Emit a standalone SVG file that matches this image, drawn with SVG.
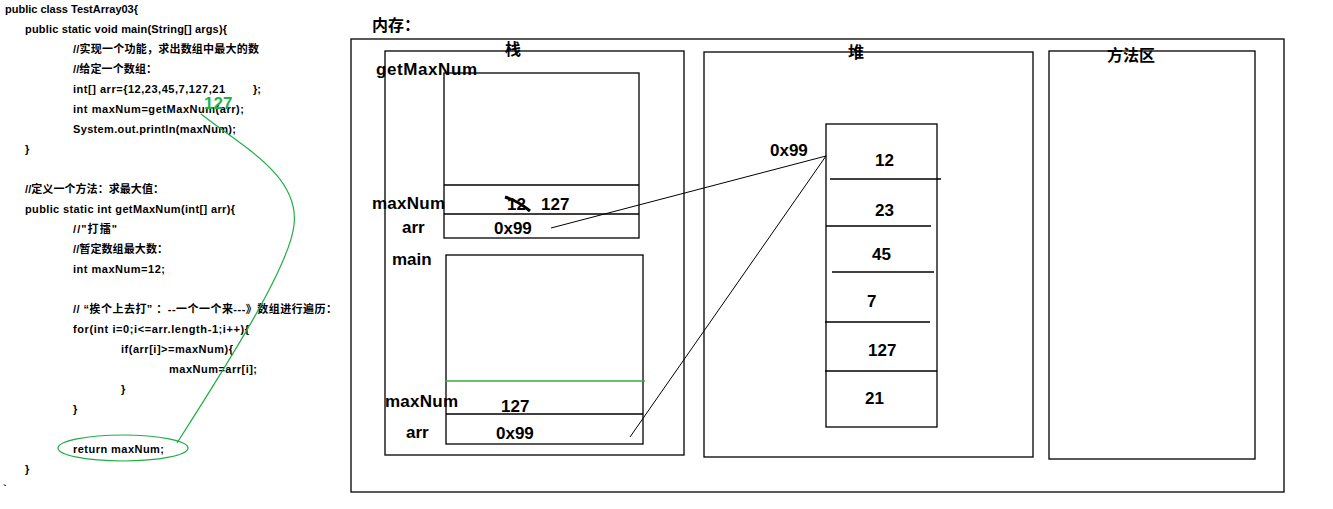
<svg xmlns="http://www.w3.org/2000/svg" width="1333" height="509" viewBox="0 0 1333 509">
<style>
.code{font-family:"Liberation Sans","Noto Sans CJK SC",sans-serif;font-size:11px;font-weight:bold;fill:#000}
.lbl{font-family:"Liberation Sans","Noto Sans CJK SC",sans-serif;font-size:17px;font-weight:bold;fill:#000}
.ttl{font-family:"Noto Sans CJK SC","Liberation Sans",sans-serif;font-size:16px;font-weight:bold;fill:#000}
.box{fill:none;stroke:#000;stroke-width:1.3}
.ln{stroke:#000;stroke-width:1.3;fill:none}
.ptr{stroke:#000;stroke-width:1;fill:none}
.grn{stroke:#1fae45;stroke-width:1.2;fill:none}
</style>
<rect width="1333" height="509" fill="#fff"/>
<g id="code">
<text class="code" x="5" y="13" textLength="133">public class TestArray03{</text>
<text class="code" x="25" y="33" textLength="202">public static void main(String[] args){</text>
<text class="code" x="73" y="53" textLength="186">//实现一个功能，求出数组中最大的数</text>
<text class="code" x="73" y="73" textLength="84">//给定一个数组：</text>
<text class="code" x="73" y="93" textLength="152">int[] arr={12,23,45,7,127,21</text>
<text class="code" x="253" y="93">};</text>
<text class="code" x="73" y="113" textLength="171">int maxNum=getMaxNum(arr);</text>
<text class="code" x="73" y="133" textLength="163">System.out.println(maxNum);</text>
<text class="code" x="25" y="153">}</text>
<text class="code" x="25" y="193" textLength="139">//定义一个方法：求最大值：</text>
<text class="code" x="25" y="213" textLength="210">public static int getMaxNum(int[] arr){</text>
<text class="code" x="73" y="233" textLength="44">//"打擂"</text>
<text class="code" x="73" y="253" textLength="95">//暂定数组最大数：</text>
<text class="code" x="73" y="273" textLength="92">int maxNum=12;</text>
<text class="code" x="73" y="313" textLength="264">// “挨个上去打” ：--一个一个来---》数组进行遍历：</text>
<text class="code" x="73" y="333" textLength="176">for(int i=0;i&lt;=arr.length-1;i++){</text>
<text class="code" x="121" y="353" textLength="112">if(arr[i]&gt;=maxNum){</text>
<text class="code" x="169" y="373" textLength="88">maxNum=arr[i];</text>
<text class="code" x="121" y="393">}</text>
<text class="code" x="73" y="413">}</text>
<text class="code" x="73" y="453" textLength="91">return maxNum;</text>
<text class="code" x="25" y="473">}</text>
<text class="code" x="3" y="492">`</text>
</g>
<g id="memory">
<rect class="box" x="351" y="39" width="933" height="453"/>
<text class="ttl" x="372" y="31">内存：</text>
</g>
<g id="stack">
<rect class="box" x="385" y="51" width="299" height="404"/>
<text class="ttl" x="513" y="55" text-anchor="middle">栈</text>
</g>
<g id="frame-getMaxNum">
<rect class="box" x="444" y="73" width="195" height="165"/>
<line class="ln" x1="444" y1="185" x2="639" y2="185"/>
<line class="ln" x1="444" y1="214" x2="639" y2="214"/>
<text class="lbl" x="376" y="75" textLength="101">getMaxNum</text>
<text class="lbl" x="372" y="209" textLength="73">maxNum</text>
<text class="lbl" x="402" y="233">arr</text>
<text class="lbl" x="507" y="210">12</text>
<path d="M505,197 Q518,201 530,211" stroke="#000" stroke-width="3" fill="none"/>
<text class="lbl" x="541" y="210">127</text>
<text class="lbl" x="494" y="234">0x99</text>
</g>
<g id="frame-main">
<rect class="box" x="446" y="255" width="197" height="189"/>
<line x1="445" y1="381" x2="645" y2="381" stroke="#3aa845" stroke-width="1.3"/>
<line class="ln" x1="446" y1="414" x2="643" y2="414"/>
<text class="lbl" x="392" y="265">main</text>
<text class="lbl" x="385" y="407" textLength="73">maxNum</text>
<text class="lbl" x="501" y="412">127</text>
<text class="lbl" x="406" y="438">arr</text>
<text class="lbl" x="496" y="439">0x99</text>
</g>
<g id="heap">
<rect class="box" x="704" y="52" width="329" height="405"/>
<text class="ttl" x="856" y="58" text-anchor="middle">堆</text>
</g>
<g id="array">
<rect class="box" x="826" y="124" width="111" height="303"/>
<line class="ln" x1="830" y1="179" x2="941" y2="179"/>
<line class="ln" x1="826" y1="226" x2="931" y2="226"/>
<line class="ln" x1="832" y1="272" x2="934" y2="272"/>
<line class="ln" x1="825" y1="322" x2="930" y2="322"/>
<line class="ln" x1="825" y1="371" x2="937" y2="371"/>
<text class="lbl" x="770" y="156">0x99</text>
<text class="lbl" x="875" y="166">12</text>
<text class="lbl" x="875" y="216">23</text>
<text class="lbl" x="872" y="260">45</text>
<text class="lbl" x="867" y="307">7</text>
<text class="lbl" x="868" y="356">127</text>
<text class="lbl" x="865" y="404">21</text>
</g>
<g id="method-area">
<rect class="box" x="1049" y="51" width="206" height="408"/>
<text class="ttl" x="1107" y="61">方法区</text>
</g>
<g id="connectors">
<line class="ptr" x1="551" y1="228" x2="826" y2="156"/>
<line class="ptr" x1="630" y1="437" x2="826" y2="156"/>
<path class="grn" d="M201,114 C240,145 300,175 294,225 C290,265 230,360 177,443"/>
<ellipse class="grn" cx="123" cy="448" rx="65" ry="13"/>
<text x="204" y="109" font-family="Liberation Sans,sans-serif" font-size="17" font-weight="bold" fill="#22b14c">127</text>
</g>
</svg>
